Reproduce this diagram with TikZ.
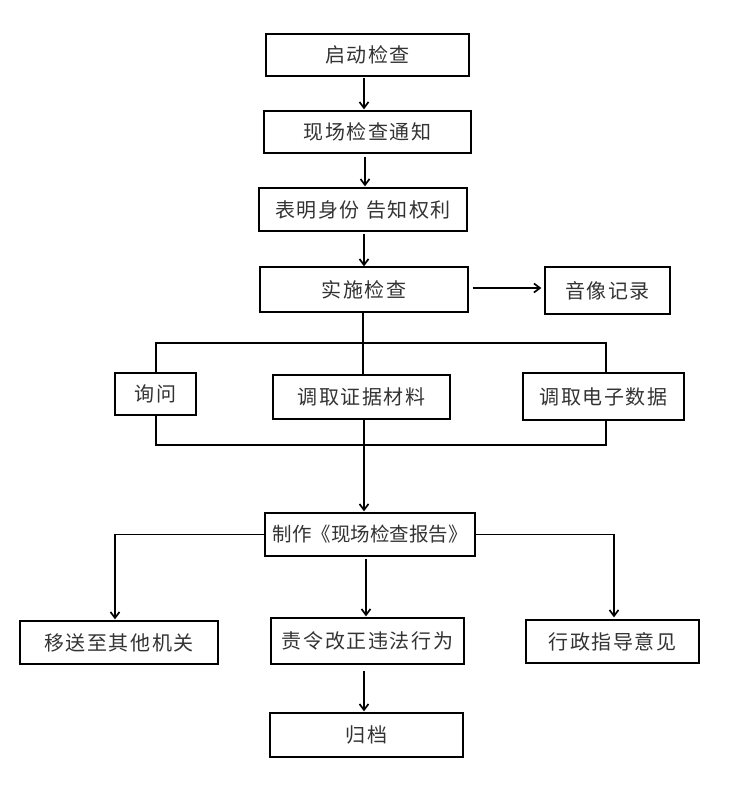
\documentclass[tikz,border=0pt]{standalone}
\usepackage{fontspec}
\setmainfont{Noto Sans CJK SC}[LetterSpace=8]
\usetikzlibrary{arrows.meta}
\begin{document}
\begin{tikzpicture}[x=1pt,y=1pt,
  box/.style={draw=black,line width=1.3pt,inner sep=0pt,fill=white,
    font=\fontsize{20pt}{23pt}\selectfont,text=black!80},
  arr/.style={line width=1.9pt,-{Straight Barb[length=6pt,width=9pt,line width=1.7pt]}},
  thk/.style={line width=2.4pt}]
\useasboundingbox (0,0) rectangle (731,-803);
\fill[white] (0,0) rectangle (731,-803);
% nodes
\node[box,minimum width=203pt,minimum height=42pt] (s1) at (367.5,-55) {启动检查};
\node[box,minimum width=207pt,minimum height=42pt] (s2) at (367.5,-132) {现场检查通知};
\node[box,minimum width=208pt,minimum height=43pt] (s3) at (363,-209.5) {表明身份 告知权利};
\node[box,minimum width=208pt,minimum height=45pt] (s4) at (364,-289.5) {实施检查};
\node[box,minimum width=125pt,minimum height=47pt] (av) at (607.5,-290.5) {音像记录};
\node[box,minimum width=81pt,minimum height=42pt] (q) at (155.5,-394) {询问};
\node[box,minimum width=177pt,minimum height=44pt] (m) at (361.5,-397) {调取证据材料};
\node[box,minimum width=161pt,minimum height=47pt] (e) at (603.5,-396.5) {调取电子数据};
\node[box,minimum width=210pt,minimum height=43pt] (r) at (370,-534.5) {\addfontfeature{LetterSpace=0}\fontsize{19.5pt}{23pt}\selectfont 制作《现场检查报告》};
\node[box,minimum width=198pt,minimum height=43pt] (l) at (119,-642.5) {移送至其他机关};
\node[box,minimum width=193pt,minimum height=46pt] (c) at (367.5,-641) {责令改正违法行为};
\node[box,minimum width=173pt,minimum height=43pt] (rt) at (612.5,-641.5) {行政指导意见};
\node[box,minimum width=193pt,minimum height=44pt] (a) at (366.5,-735) {归档};
% frame coordinates
\coordinate (tl) at (156,-343);
\coordinate (tr) at (606,-343);
\coordinate (bl) at (156,-445);
\coordinate (br) at (606,-445);
% connectors
\draw[arr] ([xshift=-3.5pt,yshift=-1pt]s1.south) -- ([xshift=-3.5pt,yshift=1pt]s1.south |- s2.north);
\draw[arr] ([xshift=-2.5pt,yshift=-3pt]s2.south) -- ([xshift=-2.5pt,yshift=1pt]s2.south |- s3.north);
\draw[arr] ([xshift=1pt,yshift=-2pt]s3.south) -- ([xshift=1pt,yshift=0pt]s3.south |- s4.north);
\draw[arr] ([xshift=4pt,yshift=1.5pt]s4.east) -- ([xshift=-3pt,yshift=1.5pt]s4.east -| av.west);
\draw[thk] ([xshift=-1pt]s4.south) -- ([xshift=-1pt]s4.south |- m.north);
\draw[thk] (q.north -| tl) -- (tl) -- (tr) -- (e.north -| tr);
\draw[thk] (q.south -| bl) -- (bl) -- (br) -- (e.south -| br);
\draw[arr] ([xshift=2.5pt]m.south) -- ([xshift=2.5pt,yshift=1pt]m.south |- r.north);
\draw[arr] (r.west) -| ([xshift=-4pt,yshift=1pt]l.north);
\draw[arr] ([xshift=-4pt,yshift=-2pt]r.south) -- ([xshift=-4pt,yshift=1pt]r.south |- c.north);
\draw[arr] (r.east) -| ([xshift=1.5pt,yshift=2pt]rt.north);
\draw[arr] ([xshift=-3.5pt,yshift=-6pt]c.south) -- ([xshift=-3.5pt,yshift=1pt]c.south |- a.north);
\end{tikzpicture}
\end{document}
